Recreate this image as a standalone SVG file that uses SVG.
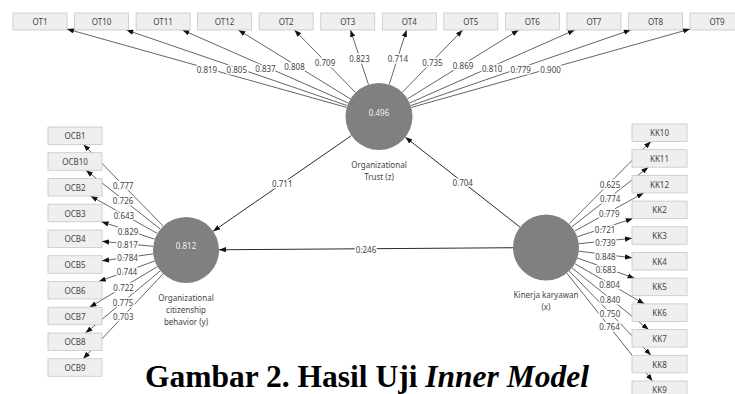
<svg xmlns="http://www.w3.org/2000/svg" width="735" height="394" viewBox="0 0 735 394">
<style>
.bx{fill:#efefef;stroke:#c6c6c6;stroke-width:0.8}
.t{font-family:"Noto Sans","Open Sans","DejaVu Sans",sans-serif;font-size:8px;fill:#444;text-anchor:middle;dominant-baseline:central}
.ln{stroke:#3c3c3c;stroke-width:0.8;fill:none;marker-end:url(#ah)}
.pl{stroke:#2a2a2a;stroke-width:1;fill:none;marker-end:url(#ah)}
.lb{font-family:"Noto Sans","Open Sans","DejaVu Sans",sans-serif;font-size:8px;fill:#444;text-anchor:middle;dominant-baseline:central;stroke:#fff;stroke-width:3;stroke-linejoin:round;paint-order:stroke}
.cc{fill:#808080}
.cv{font-family:"Noto Sans","Open Sans","DejaVu Sans",sans-serif;font-size:8px;fill:#f2f2f2;text-anchor:middle;dominant-baseline:central}
.title{font-family:"Liberation Serif","Times New Roman",serif;font-weight:bold;font-size:31.5px;fill:#000}
</style>
<defs>
<marker id="ah" viewBox="0 0 8 6" refX="8" refY="3" markerWidth="7" markerHeight="5.5" markerUnits="userSpaceOnUse" orient="auto">
<path d="M0,0 L8,3 L0,6 z" fill="#111"/>
</marker>
</defs>
<rect width="735" height="394" fill="#fff"/>

<g id="connectors">
<line class="ln" x1="346.74" y1="107.46" x2="67" y2="29.06"/>
<line class="ln" x1="347.31" y1="105.65" x2="126.37" y2="30"/>
<line class="ln" x1="348.34" y1="103.01" x2="182.41" y2="30"/>
<line class="ln" x1="350.47" y1="98.94" x2="238.45" y2="30"/>
<line class="ln" x1="355.59" y1="92.54" x2="294.48" y2="30"/>
<line class="ln" x1="368.52" y1="84.68" x2="350.52" y2="30"/>
<line class="ln" x1="389.17" y1="84.58" x2="406.56" y2="30"/>
<line class="ln" x1="402.28" y1="92.41" x2="462.6" y2="30"/>
<line class="ln" x1="407.48" y1="98.86" x2="518.64" y2="30"/>
<line class="ln" x1="409.64" y1="102.96" x2="574.68" y2="30"/>
<line class="ln" x1="410.68" y1="105.61" x2="630.72" y2="30"/>
<line class="ln" x1="411.25" y1="107.44" x2="690" y2="29.09"/>

<line class="ln" x1="162.95" y1="225.88" x2="83.54" y2="144.5"/>
<line class="ln" x1="160.14" y1="229" x2="86" y2="170.25"/>
<line class="ln" x1="157.22" y1="233.36" x2="90.6" y2="196"/>
<line class="ln" x1="154.65" y1="239.19" x2="101.6" y2="221.75"/>
<line class="ln" x1="153.15" y1="246.32" x2="102" y2="241.36"/>
<line class="ln" x1="153.3" y1="253.92" x2="102" y2="260.85"/>
<line class="ln" x1="155.02" y1="260.87" x2="98.83" y2="281.5"/>
<line class="ln" x1="157.69" y1="266.46" x2="89.6" y2="307.25"/>
<line class="ln" x1="160.62" y1="270.59" x2="85.53" y2="333"/>
<line class="ln" x1="163.39" y1="273.54" x2="83.23" y2="358.75"/>

<line class="ln" x1="569.26" y1="223.59" x2="650.8" y2="141.5"/>
<line class="ln" x1="572.02" y1="226.7" x2="648.29" y2="167.2"/>
<line class="ln" x1="574.87" y1="231.01" x2="643.7" y2="192.9"/>
<line class="ln" x1="577.36" y1="236.73" x2="632.77" y2="218.6"/>
<line class="ln" x1="578.83" y1="243.69" x2="632" y2="238.32"/>
<line class="ln" x1="578.74" y1="251.11" x2="632" y2="257.8"/>
<line class="ln" x1="577.13" y1="257.96" x2="634.64" y2="278.2"/>
<line class="ln" x1="574.57" y1="263.52" x2="644.37" y2="303.9"/>
<line class="ln" x1="571.71" y1="267.69" x2="648.63" y2="329.6"/>
<line class="ln" x1="568.97" y1="270.69" x2="651.01" y2="355.3"/>
<line class="ln" x1="566.54" y1="272.83" x2="652.54" y2="381"/>

<line class="pl" x1="351.45" y1="135.56" x2="213.14" y2="231.23"/>
<line class="pl" x1="520.04" y1="227.13" x2="405.36" y2="137.18"/>
<line class="pl" x1="513" y1="247.73" x2="219" y2="249.77"/>

<text class="lb" x="206.9" y="69.8">0.819</text>
<text class="lb" x="236.8" y="69.3">0.805</text>
<text class="lb" x="265.4" y="68">0.837</text>
<text class="lb" x="294.5" y="66">0.808</text>
<text class="lb" x="325" y="62.8">0.709</text>
<text class="lb" x="359.5" y="58.8">0.823</text>
<text class="lb" x="397.9" y="58.8">0.714</text>
<text class="lb" x="432.4" y="62.7">0.735</text>
<text class="lb" x="463.1" y="65.9">0.869</text>
<text class="lb" x="492.2" y="68">0.810</text>
<text class="lb" x="520.7" y="69.3">0.779</text>
<text class="lb" x="550.6" y="69.8">0.900</text>

<text class="lb" x="123.2" y="185.7">0.777</text>
<text class="lb" x="123.1" y="200.1">0.726</text>
<text class="lb" x="123.9" y="215.2">0.643</text>
<text class="lb" x="128.1" y="231">0.829</text>
<text class="lb" x="127.6" y="244.3">0.817</text>
<text class="lb" x="127.6" y="257.9">0.784</text>
<text class="lb" x="126.9" y="271.7">0.744</text>
<text class="lb" x="123.6" y="287.4">0.722</text>
<text class="lb" x="123.1" y="302.3">0.775</text>
<text class="lb" x="123.3" y="316.6">0.703</text>

<text class="lb" x="610" y="184">0.625</text>
<text class="lb" x="610.2" y="198.5">0.774</text>
<text class="lb" x="609.3" y="213.5">0.779</text>
<text class="lb" x="605.1" y="229">0.721</text>
<text class="lb" x="605.4" y="242.5">0.739</text>
<text class="lb" x="605.4" y="256">0.848</text>
<text class="lb" x="605.9" y="269.3">0.683</text>
<text class="lb" x="609.5" y="284.5">0.804</text>
<text class="lb" x="610.2" y="299.5">0.840</text>
<text class="lb" x="610" y="313.5">0.750</text>
<text class="lb" x="609.5" y="326">0.764</text>

<text class="lb" x="282.3" y="183.4">0.711</text>
<text class="lb" x="462.7" y="182.7">0.704</text>
<text class="lb" x="366" y="249">0.246</text>
</g>

<g id="OT1"><rect class="bx" x="13" y="13" width="54" height="17"/><text class="t" x="40" y="21.5">OT1</text></g>
<g id="OT10"><rect class="bx" x="74.55" y="13" width="54" height="17"/><text class="t" x="101.55" y="21.5">OT10</text></g>
<g id="OT11"><rect class="bx" x="136.09" y="13" width="54" height="17"/><text class="t" x="163.09" y="21.5">OT11</text></g>
<g id="OT12"><rect class="bx" x="197.64" y="13" width="54" height="17"/><text class="t" x="224.64" y="21.5">OT12</text></g>
<g id="OT2"><rect class="bx" x="259.18" y="13" width="54" height="17"/><text class="t" x="286.18" y="21.5">OT2</text></g>
<g id="OT3"><rect class="bx" x="320.73" y="13" width="54" height="17"/><text class="t" x="347.73" y="21.5">OT3</text></g>
<g id="OT4"><rect class="bx" x="382.27" y="13" width="54" height="17"/><text class="t" x="409.27" y="21.5">OT4</text></g>
<g id="OT5"><rect class="bx" x="443.82" y="13" width="54" height="17"/><text class="t" x="470.82" y="21.5">OT5</text></g>
<g id="OT6"><rect class="bx" x="505.36" y="13" width="54" height="17"/><text class="t" x="532.36" y="21.5">OT6</text></g>
<g id="OT7"><rect class="bx" x="566.91" y="13" width="54" height="17"/><text class="t" x="593.91" y="21.5">OT7</text></g>
<g id="OT8"><rect class="bx" x="628.45" y="13" width="54" height="17"/><text class="t" x="655.45" y="21.5">OT8</text></g>
<g id="OT9"><rect class="bx" x="690" y="13" width="54" height="17"/><text class="t" x="717" y="21.5">OT9</text></g>

<g id="OCB1"><rect class="bx" x="48" y="127" width="54" height="17.5"/><text class="t" x="75" y="135.75">OCB1</text></g>
<g id="OCB10"><rect class="bx" x="48" y="152.75" width="54" height="17.5"/><text class="t" x="75" y="161.5">OCB10</text></g>
<g id="OCB2"><rect class="bx" x="48" y="178.5" width="54" height="17.5"/><text class="t" x="75" y="187.25">OCB2</text></g>
<g id="OCB3"><rect class="bx" x="48" y="204.25" width="54" height="17.5"/><text class="t" x="75" y="213">OCB3</text></g>
<g id="OCB4"><rect class="bx" x="48" y="230" width="54" height="17.5"/><text class="t" x="75" y="238.75">OCB4</text></g>
<g id="OCB5"><rect class="bx" x="48" y="255.75" width="54" height="17.5"/><text class="t" x="75" y="264.5">OCB5</text></g>
<g id="OCB6"><rect class="bx" x="48" y="281.5" width="54" height="17.5"/><text class="t" x="75" y="290.25">OCB6</text></g>
<g id="OCB7"><rect class="bx" x="48" y="307.25" width="54" height="17.5"/><text class="t" x="75" y="316">OCB7</text></g>
<g id="OCB8"><rect class="bx" x="48" y="333" width="54" height="17.5"/><text class="t" x="75" y="341.75">OCB8</text></g>
<g id="OCB9"><rect class="bx" x="48" y="358.75" width="54" height="17.5"/><text class="t" x="75" y="367.5">OCB9</text></g>

<g id="KK10"><rect class="bx" x="632" y="124" width="55" height="17.5"/><text class="t" x="659.5" y="132.75">KK10</text></g>
<g id="KK11"><rect class="bx" x="632" y="149.7" width="55" height="17.5"/><text class="t" x="659.5" y="158.45">KK11</text></g>
<g id="KK12"><rect class="bx" x="632" y="175.4" width="55" height="17.5"/><text class="t" x="659.5" y="184.15">KK12</text></g>
<g id="KK2"><rect class="bx" x="632" y="201.1" width="55" height="17.5"/><text class="t" x="659.5" y="209.85">KK2</text></g>
<g id="KK3"><rect class="bx" x="632" y="226.8" width="55" height="17.5"/><text class="t" x="659.5" y="235.55">KK3</text></g>
<g id="KK4"><rect class="bx" x="632" y="252.5" width="55" height="17.5"/><text class="t" x="659.5" y="261.25">KK4</text></g>
<g id="KK5"><rect class="bx" x="632" y="278.2" width="55" height="17.5"/><text class="t" x="659.5" y="286.95">KK5</text></g>
<g id="KK6"><rect class="bx" x="632" y="303.9" width="55" height="17.5"/><text class="t" x="659.5" y="312.65">KK6</text></g>
<g id="KK7"><rect class="bx" x="632" y="329.6" width="55" height="17.5"/><text class="t" x="659.5" y="338.35">KK7</text></g>
<g id="KK8"><rect class="bx" x="632" y="355.3" width="55" height="17.5"/><text class="t" x="659.5" y="364.05">KK8</text></g>
<g id="KK9"><rect class="bx" x="632" y="381" width="55" height="17.5"/><text class="t" x="659.5" y="389.75">KK9</text></g>

<g id="OrgTrust">
<circle class="cc" cx="379" cy="116.5" r="33.5"/>
<text class="cv" x="379" y="112.7">0.496</text>
<text class="t" x="379" y="164">Organizational</text>
<text class="t" x="379" y="176">Trust (z)</text>
</g>
<g id="OCB">
<circle class="cc" cx="186" cy="250" r="33"/>
<text class="cv" x="186" y="245.7">0.812</text>
<text class="t" x="186" y="297">Organizational</text>
<text class="t" x="186" y="309">citizenship</text>
<text class="t" x="186" y="321">behavior (y)</text>
</g>
<g id="Kinerja">
<circle class="cc" cx="546" cy="247.5" r="33"/>
<text class="t" x="546" y="294.3">Kinerja karyawan</text>
<text class="t" x="546" y="306.5">(x)</text>
</g>

<text class="title" x="145" y="387">Gambar 2. Hasil Uji <tspan font-style="italic">Inner Model</tspan></text>
</svg>
